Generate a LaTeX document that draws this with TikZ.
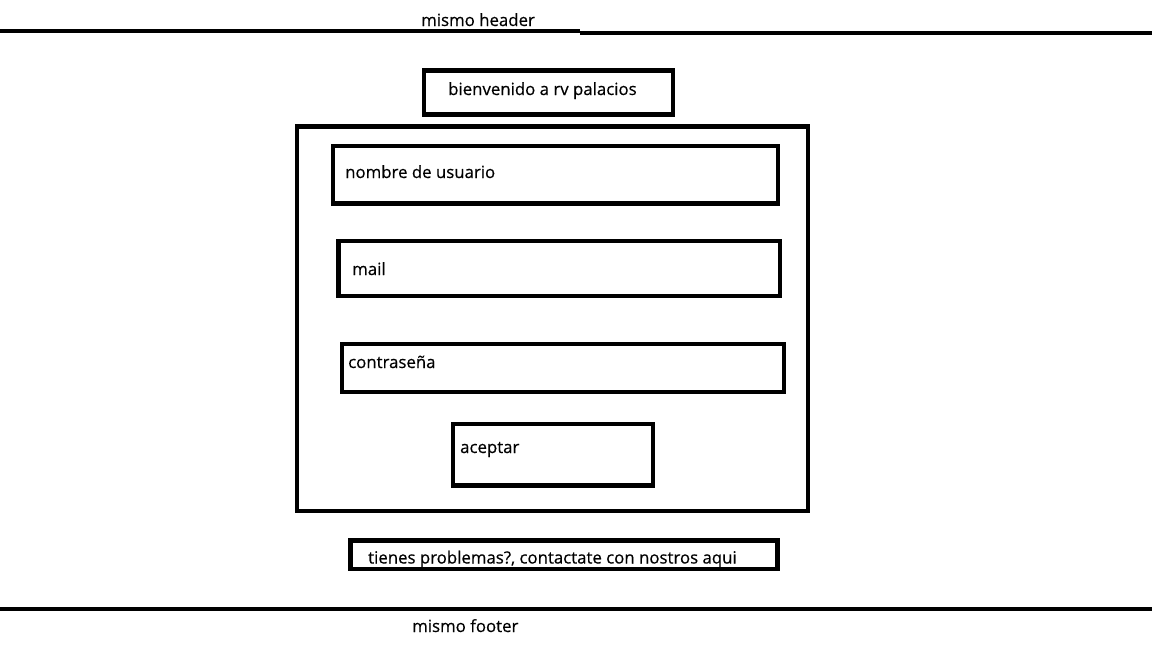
\documentclass[tikz,border=0pt]{standalone}
\usepackage{fontspec}
\setmainfont[FakeBold=0.5]{Open Sans}
\usepackage{tikz}
\tikzstyle{every node}=[font=\fontsize{16.8}{20}\selectfont, inner sep=0pt, anchor=base west]
\tikzstyle{caja}=[line width=4.5pt]

\begin{document}
\begin{tikzpicture}[x=1pt, y=-1pt]
            \useasboundingbox (0, 0) rectangle (1152, 648);

            % header
            \node (header) at (421, 26) {mismo header};
            \draw [line width=4pt] (0, 31) -- (580, 31);
            \draw [line width=4pt] (580, 33) -- (1152, 33);

            % titulo
            \draw [caja] (424, 70.5) rectangle (673, 114.5);
            \node (titulo) at (448, 95) {bienvenido a rv palacios};

            % formulario
            \draw [caja] (297, 126.5) rectangle (808, 511);

            \draw [caja] (333, 146) rectangle (778, 203.5);
            \node (usuario) at (345, 178) {nombre de usuario};

            \draw [caja] (338.5, 241) rectangle (780, 296);
            \node (mail) at (352, 275) {mail};

            \draw [caja] (342, 344) rectangle (784, 392);
            \node (clave) at (348, 368) {contraseña};

            \draw [caja] (453, 424) rectangle (653, 485.5);
            \node (aceptar) at (460, 453) {aceptar};

            % ayuda
            \draw [caja] (350.5, 540.5) rectangle (777.5, 569);
            \node (ayuda) at (368, 563.5) {tienes problemas?, contactate con nostros aqui};

            % footer
            \draw [line width=4.5pt] (0, 609) -- (1152, 609);
            \node (footer) at (412, 632) {mismo footer};
        \end{tikzpicture}
\end{document}
